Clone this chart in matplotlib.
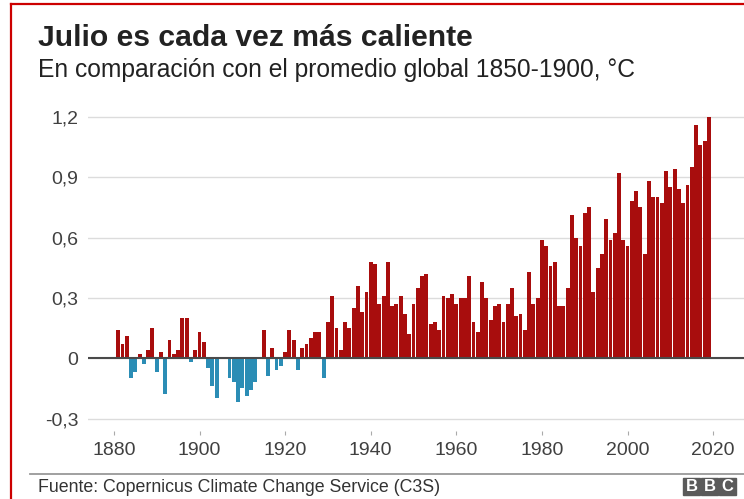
import matplotlib.pyplot as plt
from matplotlib.patches import Rectangle
from matplotlib.lines import Line2D

plt.rcParams['font.family'] = ['Liberation Sans', 'DejaVu Sans']

# July anomalies vs 1850-1900 average
years = list(range(1881, 2020))
anomaly = [
    0.14, 0.07, 0.11, -0.10, -0.07, 0.02, -0.03, 0.04, 0.15, -0.07,      # 1881-1890
    0.03, -0.18, 0.09, 0.02, 0.04, 0.20, 0.20, -0.02, 0.04, 0.13,        # 1891-1900
    0.08, -0.05, -0.14, -0.20, 0.00, 0.00, -0.10, -0.12, -0.22, -0.15,   # 1901-1910
    -0.19, -0.16, -0.12, 0.00, 0.14, -0.09, 0.05, -0.06, -0.04, 0.03,    # 1911-1920
    0.14, 0.09, -0.06, 0.05, 0.07, 0.10, 0.13, 0.13, -0.10, 0.18,        # 1921-1930
    0.31, 0.15, 0.04, 0.18, 0.15, 0.25, 0.36, 0.23, 0.33, 0.48,          # 1931-1940
    0.47, 0.27, 0.31, 0.48, 0.26, 0.27, 0.31, 0.22, 0.12, 0.27,          # 1941-1950
    0.35, 0.41, 0.42, 0.17, 0.18, 0.14, 0.31, 0.30, 0.32, 0.27,          # 1951-1960
    0.30, 0.30, 0.41, 0.18, 0.13, 0.38, 0.30, 0.19, 0.26, 0.27,          # 1961-1970
    0.18, 0.27, 0.35, 0.21, 0.22, 0.14, 0.43, 0.27, 0.30, 0.59,          # 1971-1980
    0.56, 0.46, 0.48, 0.26, 0.26, 0.35, 0.71, 0.60, 0.56, 0.72,          # 1981-1990
    0.75, 0.33, 0.45, 0.52, 0.69, 0.59, 0.62, 0.92, 0.59, 0.56,          # 1991-2000
    0.78, 0.83, 0.75, 0.52, 0.88, 0.80, 0.80, 0.77, 0.93, 0.85,          # 2001-2010
    0.94, 0.84, 0.77, 0.86, 0.95, 1.16, 1.06, 1.08, 1.20,                # 2011-2019
]
yticks = [-0.3, 0, 0.3, 0.6, 0.9, 1.2]
ytick_labels = ['-0,3', '0', '0,3', '0,6', '0,9', '1,2']
xticks = [1880, 1900, 1920, 1940, 1960, 1980, 2000, 2020]

title = 'Julio es cada vez más caliente'
subtitle = 'En comparación con el promedio global 1850-1900, °C'
source = 'Fuente: Copernicus Climate Change Service (C3S)'

W, H = 744, 499
fig = plt.figure(figsize=(W / 100, H / 100), dpi=100)
fig.patch.set_facecolor('white')

ax = fig.add_axes([88 / W, 0.137, 1 - 88 / W, 0.637])
colors = ['#a80d0d' if v >= 0 else '#2b8db5' for v in anomaly]
ax.bar(years, anomaly, width=0.9, color=colors, zorder=2)
ax.axhline(0, color='#4a4a4a', lw=1.5, zorder=3)

ax.set_xlim(1873.95, 2027.2)
ax.set_ylim(-0.36, 1.22)
ax.set_yticks(yticks)
ax.set_yticklabels(ytick_labels)
ax.set_xticks(xticks)
ax.grid(axis='y', color='#dcdcdc', lw=1, zorder=0)
ax.grid(axis='x', visible=False)
for s in ax.spines.values():
    s.set_visible(False)
ax.tick_params(axis='y', length=0, pad=7, labelsize=14, labelcolor='#404040')
ax.tick_params(axis='x', length=3, width=0.8, color='#aaaaaa', pad=5,
               labelsize=14, labelcolor='#404040')

# titles
fig.text(38 / W, 1 - 38 / H, title, fontsize=21.7, fontweight='bold',
         color='#222222', va='center', ha='left')
fig.text(38 / W, 1 - 70 / H, subtitle, fontsize=17.7, color='#222222',
         va='center', ha='left')

# footer
fig.add_artist(Line2D([30 / W, 1], [1 - 474 / H, 1 - 474 / H],
                      color='#999999', lw=1.3))
fig.text(38 / W, 1 - 487 / H, source, fontsize=12.8, color='#333333',
         va='center', ha='left')
for x0, letter in zip([683, 701, 719], ['B', 'B', 'C']):
    fig.add_artist(Rectangle((x0 / W, 1 - 495 / H), 17 / W, 17 / H,
                             transform=fig.transFigure, color='#5a5a5a'))
    fig.text((x0 + 8.5) / W, 1 - 486.5 / H, letter, fontsize=12,
             fontweight='bold', color='white', ha='center', va='center')

# red frame
fig.add_artist(Line2D([10.5 / W, 1], [1 - 4 / H, 1 - 4 / H], color='#cc0000', lw=1.6))
fig.add_artist(Line2D([10.5 / W, 10.5 / W], [0, 1 - 4 / H], color='#cc0000', lw=1.6))

fig.savefig('out.png', dpi=100)
